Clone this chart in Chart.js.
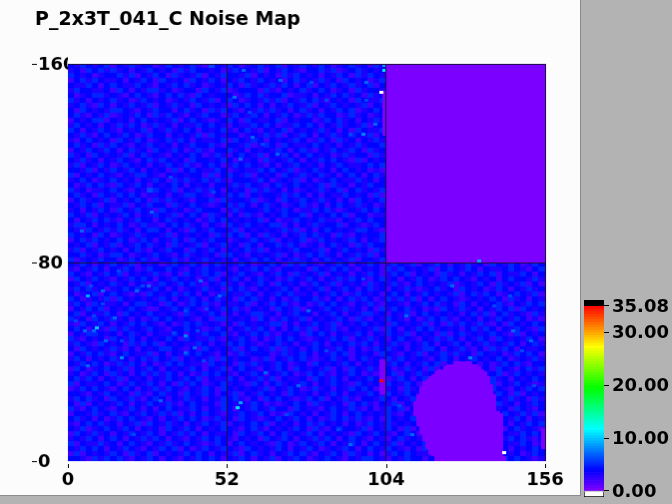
<!DOCTYPE html>
<html>
<head>
  <meta charset="UTF-8" />
  <title>Noise Map</title>
  <script src="https://cdn.jsdelivr.net/npm/chart.js"></script>
  <style>
    body { margin: 0; background: #b3b3b3; width: 672px; height: 504px; overflow: hidden; position: relative; }
    #mapChart { position: absolute; left: 0; top: 0; background: #fcfcfd; border-right: 1px solid #8c8c8c; border-bottom: 1px solid #8c8c8c; }
    #barChart { position: absolute; left: 583px; top: 290px; }
  </style>
</head>
<body>
  <canvas id="mapChart" width="581" height="496"></canvas>
  <canvas id="barChart" width="89" height="214"></canvas>

  <script>
    const titleText = 'P_2x3T_041_C Noise Map';
    const xTicks = [0, 52, 104, 156];
    const yTicks = [0, 80, 160];
    const barTicks = [0, 10, 20, 30, 35.08];

    // noise level (digit + noiseBase) per 2x2 block of channels, top row first.
    // estimated texture, not cell-exact
    const noiseBase = 1;
    const noiseTop = [
      '3243234132423312432342153243123423413243243123423142',
      '2314342423132432314243323124332413243213342412342323',
      '4323123342413243142324132433241323142432313243142432',
      '1342432231324314323143243132432432313423242314323124',
      '3224313432243213243423123243142324243134132432423413',
      '2433223143132442312331432412333142132342343123142332',
      '3123442321343213434214323331243423341223132434231423',
      '4231323423124323123243241343123242413243421323143224',
      '2342143132432413242314323214343131324324132432324132',
      '3143232443213243313423142432132424231342313243412343',
      '3421324123243142432132433124324313243124243312423123',
      '1323441323134323241343212343143223413233124342313242',
      '2432313242431242313224343213224343122434313242324133',
      '4313243213234132423431323421342132341323242313143224',
      '3242134324312433132324143233123242413243132423432413',
      '2134323143243123424313223414324313232431243142313242',
      '3423142432132432313243342133241243143223432313242334',
      '1324324313423143243124213342313232431342132432431423',
      '4231432324134232132343124213432413243134323124233142',
      '3242313243213424323143323431223142324313243432141323',
      '2413243124323132432421343124343213132432313243223434',
      '3324132432431323141343224312322434324123423134323121',
      '4132343213244321323233141343241323143242342313431342',
      '2343123432313243142423424213332431232413123432242313',
      '3124342143243132343132313324243213423432341423132433',
      '4231223432132543241324243132314242313123242341342324',
      '3423143243431223132443213243413233242431313224323141',
      '1342324132343142423213341423324123143243242313143234',
      '3243413224132433142343212342431342312342131343242312',
      '2313243143243214323124333124233243243122434212324343',
      '4324132324313243241343142313142132343341323434133122',
      '3132434213243313423231243432323413122432342213243433',
      '2443132343124221343423132143243234413132423341321243',
      '3214324242313443132143243324132323242413134323244321',
      '4323143123242332413232314243413142313243423142132334',
      '1342432343124313243143243312324324132341243232431324',
      '3234132413243423142324132423143133424312313423142433',
      '2413243231342132433143243132342413232433241324323142',
      '3342312443123243213423231443213232413124342313242413',
      '4123243312434213342132423231324343132423134232413324'
    ];
    const noiseBottom = [
      '324313243241323124324313423243123431424321324313243124324132431324231432431243',
      '213243132431243343213243232132434213323143243421323142432324134324313223432134',
      '432132434132324213143243413243213243142324132313243124341323142313243413224313',
      '143243213243431324323124132431342312432431324243213423132431243432132313433242',
      '324132342313212432434213242313243143231243241323142324213432324123243142324131',
      '243423123434324313123242314342132324313234132431342313242123423143231243132423',
      '312341343212143234243131243224313243422313243124323134313243232413424312343241',
      '431232414323232431324313423143423131243342131342431242424131343212323431423132',
      '243143223134423143124342132234132434213124343213242133213243423143132342132434',
      '132434132343211324343213243421323143241232432423131424342312143242313243414323',
      '341322431432343232142324313132442313243313243132442313241343232313424134232142',
      '423143242313124343232131442323143124324132324314213243213124342132313243243121',
      '214324313243432131243423213143232441313243241323432314323241314243242131432343',
      '343132142423243213343212431324243131342413242132324143132434232313424313243214',
      '132443231342313224313243342132434213231434313224313243241323141342323432141323',
      '421323143243132343143224213243131243432123243413242313432132424313243143232431',
      '243214323142434132322431324343212342313243132342431324213243132431324232431342',
      '314323242131323443213143232413432414231343224313124342313244313242131424313223',
      '132434213432241313243432131242333124234313243413231432132413242423143231243431',
      '243132342313424324132324143233124132434212342313423242432321343132432343123242',
      '324343124243131243432214323142423243123143232431323124313243413224313124342133',
      '143123432413243132324313241343213243143232413143242331242314132432423143213424',
      '231243142313424243131243432132431324312434213243121434132423243143132341243232',
      '342431324132313243243413224313242413223143243132343212431343123242431423132343',
      '413223431243243131424312342321431342324313243214323143243124324313232413243212',
      '124343213431324243213243143232324132431242313243431323142342313423142432132434',
      '332132432314213423143243132413243231432313243132243143243213242432313243141323',
      '243423143242134313242313243421314343212434132421332431324231343124324132423142',
      '314132324313243242134323143232431212343142323143421324132342431323143242313243',
      '421343213243131343224313243132432433143221343242131243413224313432413223143213',
      '133242342132432424131343213243243121432313243134323242132431343132324134324241',
      '342313124343213132434312423143212343243131243424213143234132423241431323243132',
      '213434231324143242313243241323434132313424323131243242323413124343213243132434',
      '324123432431323143243132343213421323243142134332413243141342313224313241342321',
      '143242313243243132424313223143243134232431323214324321343123243432142313224343',
      '232431343132424313213243432132314324313242431343213213423243131243432132434213',
      '413224231343213242343212431343232143124324313243134324132342314213243413224312',
      '324343132432132434131243243214323243132431232431343243213143243423131243132343',
      '141323243142341323243431322413423132434213243142313124343221313243241343231243',
      '332142434213243132132434313243132413243123432132443213243313243142313224343212'
    ];

    // the flat regions, in channels
    const flatCols = [104, 156];
    const flatRows = [80, 160];
    const flatValue = 0.1;
    // round patch: first and last+1 channel for rows 0..39
    const patchStart = [120, 120, 119, 118, 118, 117, 117, 117, 116, 116, 116, 115, 115, 115, 114, 114, 114, 114, 113, 113,
      113, 113, 113, 113, 114, 114, 114, 115, 115, 115, 116, 116, 117, 118, 119, 120, 121, 123, 124, 126];
    const patchEnd = [143, 143, 142, 142, 142, 142, 142, 142, 142, 142, 142, 142, 142, 142, 142, 142, 142, 142, 142, 141,
      140, 140, 140, 140, 140, 140, 140, 139, 139, 139, 139, 138, 138, 138, 137, 137, 136, 135, 134, 132];

    // purple strips along the chip edges: column, first row, last+1 row
    const stripCols = [102, 103, 103, 155];
    const stripFrom = [27, 27, 131, 5];
    const stripTo = [41, 41, 149, 13];

    // single channels that stand out
    const spotCols = [102, 142, 103, 103, 134, 55, 9, 56, 6, 17, 131, 102,
      11, 8, 38, 41, 42, 6, 5, 2, 49, 22, 45, 26, 16, 11, 15, 34, 43, 7, 24, 38, 12, 17, 8, 44, 38,
      69, 97, 97, 96, 54, 57, 60, 63, 56, 68, 59, 84, 92, 79, 100,
      75, 88, 30, 21, 64, 71, 92, 84, 27, 33, 4, 47, 78, 96, 110, 148, 125, 139, 151, 108, 145, 152, 112, 144];
    const spotRows = [148, 3, 159, 157, 80, 21, 53, 23, 66, 41, 41, 32,
      68, 52, 50, 45, 52, 38, 52, 56, 66, 68, 61, 70, 76, 63, 57, 51, 72, 70, 70, 60, 48, 48, 58, 40, 43,
      153, 152, 145, 131, 146, 157, 130, 127, 121, 123, 140, 145, 131, 152, 135,
      30, 12, 24, 10, 35, 18, 6, 44, 100, 114, 92, 108, 60, 73, 58, 44, 70, 62, 48, 22, 52, 30, 10, 66];
    const spotValues = [-1, -1, 9, 11, 9, 11, 10, 9, 9, 8, 8, 35,
      7, 7, 8, 7, 6, 7, 7, 6, 7, 7, 6, 7, 6, 6, 7, 6, 7, 6, 6, 6, 7, 6, 6, 6, 7,
      7, 7, 6, 8, 7, 7, 7, 6, 7, 7, 6, 6, 6, 6, 7,
      7, 6, 7, 6, 7, 6, 7, 6, 7, 6, 7, 6, 7, 6, 7, 6, 7, 6, 7, 6, 7, 6, 7, 6];

    // colour bar steps
    const barSteps = [];
    for (let v = 0; v < 35; v += 0.5) barSteps.push(v);

    function levelColor(v) {
      if (v < 0) return '#ffffff';
      const hue = Math.max(0, 270 - 7.7 * v);
      return `hsl(${hue}, 100%, 50%)`;
    }

    // Chart.js draws a canvas pointStyle as is, so each cell is a small filled canvas
    const tiles = {};
    function tile(color, w, h) {
      const key = color + w + 'x' + h;
      if (!tiles[key]) {
        const c = document.createElement('canvas');
        c.width = w;
        c.height = h;
        const g = c.getContext('2d');
        g.fillStyle = color;
        g.fillRect(0, 0, w, h);
        tiles[key] = c;
      }
      return tiles[key];
    }

    const noisePoints = [];
    noiseTop.forEach((row, r) => {
      for (let c = 0; c < row.length; c++) noisePoints.push({ x: c * 2 + 1, y: 159 - r * 2, v: +row[c] + noiseBase });
    });
    noiseBottom.forEach((row, r) => {
      for (let c = 0; c < row.length; c++) noisePoints.push({ x: c * 2 + 1, y: 79 - r * 2, v: +row[c] + noiseBase });
    });

    const flatPoints = [];
    for (let c = flatCols[0]; c < flatCols[1]; c++) {
      for (let r = flatRows[0]; r < flatRows[1]; r++) flatPoints.push({ x: c + 0.5, y: r + 0.5, v: flatValue });
    }
    patchStart.forEach((start, r) => {
      for (let c = start; c < patchEnd[r]; c++) flatPoints.push({ x: c + 0.5, y: r + 0.5, v: flatValue });
    });

    const spotPoints = [];
    stripCols.forEach((c, i) => {
      for (let r = stripFrom[i]; r < stripTo[i]; r++) spotPoints.push({ x: c + 0.5, y: r + 0.5, v: flatValue });
    });
    spotCols.forEach((c, i) => spotPoints.push({ x: c + 0.5, y: spotRows[i] + 0.5, v: spotValues[i] }));

    function cellDataset(points, w, h, order) {
      return {
        data: points,
        order: order,
        pointRadius: 1,
        pointBorderWidth: 0,
        pointStyle: ctx => tile(levelColor(ctx.raw.v), w, h)
      };
    }

    // tick dashes stand off from the plot in this chart, so they go in by hand at the scale's positions
    const tickDashes = {
      id: 'tickDashes',
      afterLayout(chart) { chart.titleBlock.left = 35; },
      beforeDatasetsDraw(chart) { chart.ctx.imageSmoothingEnabled = false; },
      afterDraw(chart) {
        const ctx = chart.ctx;
        ctx.save();
        ctx.strokeStyle = '#000';
        ctx.lineWidth = 1;
        ctx.beginPath();
        yTicks.forEach(t => {
          const y = Math.round(chart.scales.y.getPixelForValue(t)) + 0.5;
          ctx.moveTo(32, y);
          ctx.lineTo(37, y);
        });
        xTicks.forEach(t => {
          const x = Math.round(chart.scales.x.getPixelForValue(t)) + 0.5;
          ctx.moveTo(x, 465);
          ctx.lineTo(x, 469);
        });
        ctx.stroke();
        ctx.restore();
      }
    };

    const tickFont = { family: 'DejaVu Sans', size: 18, weight: 'bold' };

    new Chart(document.getElementById('mapChart'), {
      type: 'scatter',
      data: {
        datasets: [
          cellDataset(spotPoints, 4, 3, 1),
          cellDataset(flatPoints, 4, 3, 2),
          cellDataset(noisePoints, 7, 6, 3)
        ]
      },
      plugins: [tickDashes],
      options: {
        responsive: false,
        animation: false,
        events: [],
        layout: { padding: { left: 38, right: 35, top: 0, bottom: 0 } },
        plugins: {
          legend: { display: false },
          tooltip: { enabled: false },
          title: {
            display: true,
            text: titleText,
            align: 'start',
            color: '#000',
            font: { family: 'DejaVu Sans', size: 19, weight: 'bold', lineHeight: 1.2 },
            padding: { top: 9, bottom: 32.2 }
          }
        },
        scales: {
          x: {
            type: 'linear',
            min: 0,
            max: 156,
            afterBuildTicks: axis => { axis.ticks = xTicks.map(value => ({ value })); },
            afterFit: axis => { axis.height = 34; },
            ticks: { color: '#000', font: tickFont, padding: 9, maxRotation: 0, autoSkip: false },
            border: { display: false },
            grid: { z: 1, drawTicks: false, color: c => (c.tick.value === 0 ? 'rgba(0,0,0,0)' : '#1c0c44') }
          },
          y: {
            type: 'linear',
            min: 0,
            max: 160,
            afterBuildTicks: axis => { axis.ticks = yTicks.map(value => ({ value })); },
            afterFit: axis => { axis.width = 30; },
            ticks: { color: '#000', font: tickFont, crossAlign: 'far', labelOffset: 1.5, autoSkip: false },
            border: { display: false },
            grid: { z: 1, drawTicks: false, color: c => (c.tick.value === 0 ? 'rgba(0,0,0,0)' : '#1c0c44') }
          }
        }
      }
    });

    const barSets = barSteps.map(v => ({ data: [[v, v + 0.5]], backgroundColor: levelColor(v + 0.25) }));
    barSets.push({ data: [[35, 36.2]], backgroundColor: '#000000' });
    barSets.push({ data: [[-1.14, 0]], backgroundColor: '#ffffff', borderColor: '#000000', borderWidth: 1 });

    new Chart(document.getElementById('barChart'), {
      type: 'bar',
      data: { labels: ['noise'], datasets: barSets },
      options: {
        responsive: false,
        animation: false,
        events: [],
        layout: { padding: { left: 1, right: 0, top: 10, bottom: 7 } },
        datasets: { bar: { grouped: false, barPercentage: 1, categoryPercentage: 1 } },
        plugins: { legend: { display: false }, tooltip: { enabled: false } },
        scales: {
          x: { display: false },
          y: {
            position: 'right',
            min: -1.14,
            max: 36.2,
            afterBuildTicks: axis => { axis.ticks = barTicks.map(value => ({ value })); },
            afterFit: axis => { axis.width = 68; axis.paddingTop = 0; axis.paddingBottom = 0; },
            ticks: { color: '#000', font: tickFont, padding: 3, labelOffset: 1, autoSkip: false, callback: v => v.toFixed(2) },
            border: { display: false },
            grid: { drawOnChartArea: false, tickLength: 5, tickColor: '#000' }
          }
        }
      }
    });
  </script>
</body>
</html>
